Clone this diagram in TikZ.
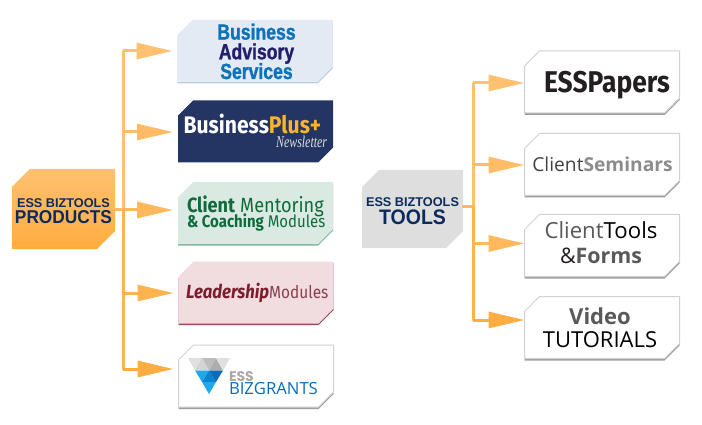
\documentclass[tikz,border=0pt]{standalone}
\usepackage{fontspec}
\usetikzlibrary{shadows,arrows.meta}
\setmainfont{Liberation Sans}
\newfontfamily\arialn[FakeStretch=0.8,BoldFeatures={FakeBold=1.2}]{Liberation Sans}
\newfontfamily\arialm[FakeStretch=0.93]{Liberation Sans}
\newfontfamily\firan[FakeStretch=0.88]{Fira Sans}
\newfontfamily\opens{Open Sans}
\newfontfamily\popp{Poppins}
\newfontfamily\serifn[FakeStretch=0.72]{Liberation Serif}
\newcommand{\fs}[1]{\fontsize{#1}{#1}\selectfont}
\definecolor{navy}{HTML}{0C2A5B}
\definecolor{basfill}{HTML}{E3EAF4}
\definecolor{basline}{HTML}{B5CFE3}
\definecolor{basblue}{HTML}{0B72BC}
\definecolor{basdark}{HTML}{241F6B}
\definecolor{plusblue}{HTML}{243563}
\definecolor{plusgold}{HTML}{F7B52C}
\definecolor{cmfill}{HTML}{DAE9E2}
\definecolor{cmline}{HTML}{7FB59A}
\definecolor{cmgreen}{HTML}{0E6B3B}
\definecolor{lmfill}{HTML}{F1DCDF}
\definecolor{lmline}{HTML}{9A4A55}
\definecolor{lmred}{HTML}{7A1E2E}
\definecolor{lmsoft}{HTML}{8A3F4C}
\definecolor{essgray}{HTML}{A7A9AC}
\definecolor{darkgray}{HTML}{58595B}
\definecolor{ink}{HTML}{231F20}
\definecolor{grantblue}{HTML}{0A6CBB}
\definecolor{gla}{HTML}{1FA9EC}
\definecolor{glb}{HTML}{0A84D0}
\definecolor{glc}{HTML}{0A6CBB}
\definecolor{arrowa}{HTML}{FFC070}
\definecolor{arrowb}{HTML}{FFBC66}
\definecolor{arrowc}{HTML}{FFB85A}
\definecolor{arrowd}{HTML}{FFB34E}
\definecolor{arrowe}{HTML}{FFAD40}
\makeatletter
\pgfkeys{/tikz/chamfer/.initial=15pt}
\pgfdeclareshape{chamfbox}{
  \inheritsavedanchors[from=rectangle]
  \inheritanchorborder[from=rectangle]
  \inheritanchor[from=rectangle]{center}
  \inheritanchor[from=rectangle]{north}
  \inheritanchor[from=rectangle]{south}
  \inheritanchor[from=rectangle]{west}
  \inheritanchor[from=rectangle]{east}
  \backgroundpath{
    \southwest \pgf@xa=\pgf@x \pgf@ya=\pgf@y
    \northeast \pgf@xb=\pgf@x \pgf@yb=\pgf@y
    \pgfmathsetlength\pgf@xc{\pgfkeysvalueof{/tikz/chamfer}}
    \pgfpathmoveto{\pgfqpoint{\pgf@xa}{\pgf@ya}}
    \pgfpathlineto{\pgfqpoint{\pgf@xa}{\dimexpr\pgf@yb-\pgf@xc}}
    \pgfpathlineto{\pgfqpoint{\dimexpr\pgf@xa+\pgf@xc}{\pgf@yb}}
    \pgfpathlineto{\pgfqpoint{\pgf@xb}{\pgf@yb}}
    \pgfpathlineto{\pgfqpoint{\pgf@xb}{\dimexpr\pgf@ya+\pgf@xc}}
    \pgfpathlineto{\pgfqpoint{\dimexpr\pgf@xb-\pgf@xc}{\pgf@ya}}
    \pgfpathclose
  }
}
\makeatother
\tikzset{
  chambox/.style={shape=chamfbox,minimum width=#1,minimum height=62pt,inner sep=0pt,outer sep=0pt,draw=none},
  chambox/.default=155pt,
  logobox/.style={chambox=155pt,fill=#1},
  whitebox/.style={chambox=155pt,fill=white,draw=black!18,line width=1pt,
    copy shadow={shadow xshift=0pt,shadow yshift=-2pt,fill=black!38,draw=none}},
  edged/.style={copy shadow={shadow xshift=0pt,shadow yshift=-1.5pt,fill=#1,draw=none}},
  logotext/.style={inner sep=0pt,outer sep=0pt,align=center,execute at begin node={\lineskiplimit=-100pt}},
  trunk/.style={line width=3pt,draw=#1,line cap=round},
  branch/.style={line width=3pt,draw=#1,-{Triangle[length=36pt,width=16pt,fill=#1]}},
}
\begin{document}
\begin{tikzpicture}[x=1pt,y=-1pt]
\useasboundingbox (0,0) rectangle (702,425);
% left group
\node (products) [chambox=103pt,minimum height=80pt,chamfer=18pt,
  top color=arrowa,bottom color=arrowe] at (63.5,209) {};
\node (b1) [logobox=basfill,edged=basline] at (255,51) {};
\node (b2) [logobox=plusblue] at (255.5,131.5) {};
\node (b3) [logobox=cmfill,edged=cmline] at (255.5,213) {};
\node (b4) [logobox=lmfill,edged=lmline] at (256,292.5) {};
\node (b5) [whitebox] at (256,376) {};
% right group
\node (tools) [chambox=101pt,minimum height=78pt,chamfer=17pt,fill=black!13] at (412.5,209) {};
\node (c1) [whitebox] at (602,82) {};
\node (c2) [whitebox] at (602,164.5) {};
\node (c3) [whitebox] at (602,245.5) {};
\node (c4) [whitebox] at (602,327.5) {};

% texts
\node (productst) [logotext,anchor=base,text=navy,font=\fontsize{12.7}{16}\selectfont\bfseries] at (63.5,223)
  {ESS BIZTOOLS\\{\fontsize{18.6}{16}\selectfont\arialm PRODUCTS}};
\node (toolst) [logotext,anchor=base,text=navy,font=\fontsize{12.7}{18}\selectfont\bfseries] at (412.5,225)
  {ESS BIZTOOLS\\{\fontsize{21}{18}\selectfont\arialm TOOLS}};
\node (b1t) [logotext,anchor=base,text=basblue,font=\fontsize{22}{19.7}\selectfont\arialn\bfseries] at (256.5,79)
  {Business\\\textcolor{basdark}{Advisory}\\Services};
\node (b2t) [logotext,align=right,text=white,anchor=base east,font=\fontsize{24}{14}\selectfont\firan] at (327,148)
  {\textbf{Business\textcolor{plusgold}{Plus+}}\hspace*{6pt}\\{\color{black!12}\fontsize{16.5}{14}\selectfont\serifn\itshape Newsletter}};
\node (b3t) [logotext,align=left,text=cmgreen,anchor=base west,font=\fontsize{20.6}{14}\selectfont\firan] at (187,227)
  {\textbf{Client} Mentoring\\{\fontsize{17}{14}\selectfont\textbf{\& Coaching} Modules}};
\node (b4t) [logotext,anchor=base west] at (186,298)
  {\firan\textcolor{lmred}{\fs{19}\bfseries\itshape Leadership}\textcolor{lmsoft}{\fs{17.5}Modules}};
\node (b5t) [logotext,align=left,text=grantblue,anchor=base west,font=\fontsize{16.7}{13}\selectfont\opens] at (229,394)
  {{\color{essgray}\fontsize{14}{13}\selectfont\popp\bfseries ESS}\\BIZGRANTS};
\node (c1t) [logotext,text=ink,anchor=base] at (607,93) {\fs{30}\firan\bfseries ESSPapers};
\node (c2t) [logotext,anchor=base] at (602.5,172)
  {\fs{19.2}\opens\textcolor{ink!85}{Client}\textcolor{black!45}{\bfseries Seminars}};
\node (c3t) [logotext,anchor=base,font=\fontsize{22.2}{25}\selectfont\opens] at (601,263)
  {\textcolor{darkgray}{Client}\textcolor{black}{Tools}\\{\fontsize{21.4}{25}\selectfont\textcolor{ink}{\&}\textcolor{darkgray}{\bfseries Forms}}};
\node (c4t) [logotext,anchor=base,font=\fontsize{22}{23}\selectfont\opens] at (600,347)
  {\textcolor{darkgray}{\bfseries Video}\\TUTORIALS};

% grants logo
\fill[black!12] (188,358) -- (202,358) -- (195,370.5) -- cycle;
\fill[black!26] (202,358) -- (216,358) -- (209,370.5) -- cycle;
\fill[black!17] (195,370.5) -- (202,358) -- (209,370.5) -- cycle;
\fill[black!32] (209,370.5) -- (216,358) -- (223,370.5) -- cycle;
\fill[black!12] (216,358) -- (230,358) -- (223,370.5) -- cycle;
\fill[gla] (195,370.5) -- (209,370.5) -- (202,382) -- cycle;
\fill[glb] (202,382) -- (209,370.5) -- (216,382) -- cycle;
\fill[glc] (209,370.5) -- (223,370.5) -- (216,382) -- cycle;
\fill[gla] (202,382) -- (216,382) -- (209,394) -- cycle;

% connectors
\coordinate (pk) at (123,210);
\coordinate (p1) at (123,51);
\coordinate (p2) at (123,132);
\coordinate (p4) at (123,293);
\coordinate (p5) at (123,369);
\draw [trunk=arrowc] (products.east |- pk) -- (pk);
\draw [trunk=arrowa] (pk) -- (p1);
\draw [trunk=arrowd] (pk) -- (p5);
\coordinate (tk) at (473,207);
\coordinate (t1) at (473,83);
\coordinate (t2) at (473,165);
\coordinate (t3) at (473,243.5);
\coordinate (t4) at (473,320);
\draw [trunk=arrowc] (tools.east |- tk) -- (tk);
\draw [trunk=arrowa] (tk) -- (t1);
\draw [trunk=arrowd] (tk) -- (t4);
\draw [branch=arrowa,shorten >=5pt] (p1) -- (b1.west |- p1);
\draw [branch=arrowb,shorten >=5pt] (p2) -- (b2.west |- p2);
\draw [branch=arrowc,shorten >=5pt] (pk) -- (b3.west |- pk);
\draw [branch=arrowd,shorten >=5pt] (p4) -- (b4.west |- p4);
\draw [branch=arrowe,shorten >=5pt] (p5) -- (b5.west |- p5);
\draw [branch=arrowa] (t1) -- (c1.west |- t1);
\draw [branch=arrowb] (t2) -- (c2.west |- t2);
\draw [branch=arrowc] (t3) -- (c3.west |- t3);
\draw [branch=arrowe] (t4) -- (c4.west |- t4);
\end{tikzpicture}
\end{document}
